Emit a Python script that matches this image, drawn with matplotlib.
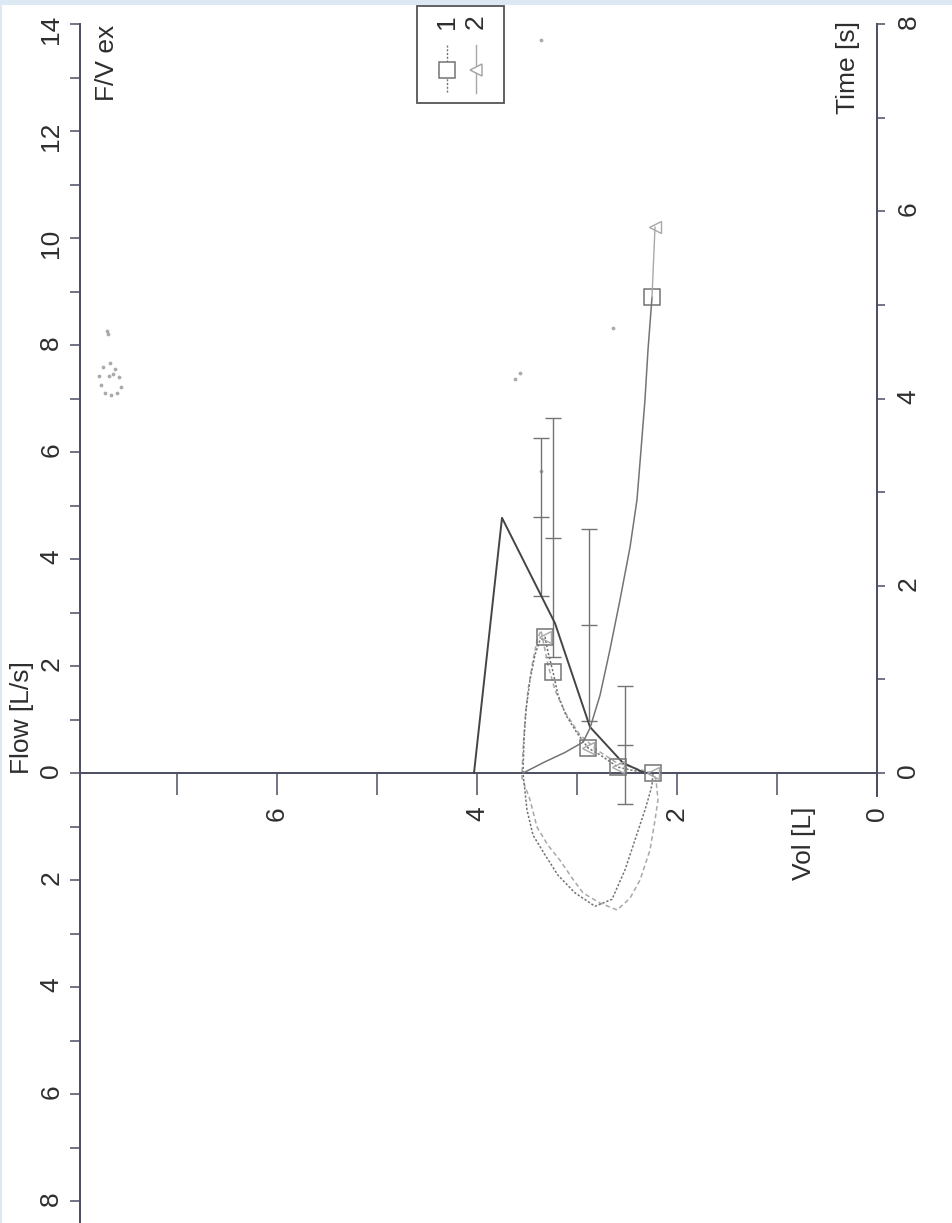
import matplotlib
matplotlib.use("Agg")
import matplotlib.pyplot as plt
from matplotlib.ticker import FixedLocator, FixedFormatter
from matplotlib.patches import Rectangle
from matplotlib.lines import Line2D

plt.rcParams['font.family'] = ['Liberation Sans', 'DejaVu Sans']

# ---------------- data ----------------
# predicted flow-volume line (vol [L], flow [L/s])
pred_vol = [4.03, 3.75, 3.22, 2.87, 2.54, 2.32]
pred_flow = [0.0, 4.77, 2.80, 0.86, 0.19, 0.0]

# predicted ranges (error bars)
eb_vol = [3.36, 3.24, 2.88, 2.52]
eb_center = [4.79, 4.40, 2.77, 0.53]
eb_half = [1.48, 2.23, 1.79, 1.10]

# series 1 flow-volume loop
s1_vol = [2.24, 2.42, 2.59, 2.77, 2.89, 3.00, 3.11, 3.19, 3.24, 3.29, 3.32,
          3.37, 3.42, 3.47, 3.51, 3.53, 3.54, 3.50, 3.44, 3.32, 3.19, 3.02,
          2.82, 2.65, 2.52, 2.42, 2.32, 2.27, 2.25, 2.24]
s1_flow = [0.0, 0.04, 0.11, 0.34, 0.47, 0.75, 1.08, 1.46, 1.89, 2.26, 2.54,
           2.49, 2.21, 1.74, 1.18, 0.62, 0.0, -0.69, -1.16, -1.53, -1.91, -2.24,
           -2.49, -2.36, -1.81, -1.25, -0.69, -0.37, -0.22, 0.0]

# series 2 flow-volume loop
s2_vol = [2.24, 2.42, 2.62, 2.80, 2.97, 3.12, 3.22, 3.29, 3.34, 3.36, 3.40,
          3.44, 3.49, 3.52, 3.54, 3.55, 3.55, 3.47, 3.40, 3.29, 3.17, 3.05,
          2.94, 2.77, 2.60, 2.47, 2.37, 2.27, 2.22, 2.19, 2.21, 2.24]
s2_flow = [0.0, 0.09, 0.21, 0.43, 0.71, 1.14, 1.55, 2.02, 2.48, 2.67, 2.48,
           2.11, 1.55, 0.99, 0.43, 0.0, -0.09, -0.50, -1.01, -1.35, -1.63, -1.96,
           -2.24, -2.43, -2.56, -2.34, -2.00, -1.44, -0.88, -0.50, -0.13, 0.0]

# markers on flow-volume curves
s1_mark_vol = [3.32, 3.24, 2.89, 2.59, 2.24]
s1_mark_flow = [2.54, 1.89, 0.47, 0.11, 0.0]
s2_mark_vol = [3.32, 2.89, 2.59, 2.24]
s2_mark_flow = [2.54, 0.47, 0.11, 0.0]

# volume-time curves (vol [L], time [s])
vt_vol = [3.54, 3.32, 3.12, 2.94, 2.87, 2.77, 2.67, 2.57, 2.47, 2.40,
          2.36, 2.32, 2.29, 2.25]
vt_time = [0.0, 0.12, 0.22, 0.33, 0.48, 0.83, 1.32, 1.85, 2.41, 2.92,
           3.45, 3.99, 4.52, 5.08]
vt2_vol = [2.25, 2.22]
vt2_time = [5.08, 5.83]
s1_end_vol, s1_end_time = [2.25], [5.08]
s2_end_vol, s2_end_time = [2.22], [5.83]

# faint scan specks seen on the sheet (vol, flow)
speck_vol = [7.67, 7.62, 7.58, 7.56, 7.60, 7.66, 7.72, 7.76, 7.78, 7.74,
             7.68, 7.64, 7.69, 7.70, 2.64, 3.57, 3.62, 3.36, 3.36]
speck_flow = [7.67, 7.55, 7.40, 7.22, 7.10, 7.06, 7.10, 7.25, 7.42, 7.58,
              7.42, 7.45, 8.20, 8.27, 8.32, 7.48, 7.36, 5.64, 13.7]

flow_ticks = [-8, -6, -4, -2, 0, 2, 4, 6, 8, 10, 12, 14]
flow_labels = ['8', '6', '4', '2', '0', '2', '4', '6', '8', '10', '12', '14']
vol_ticks = [0, 2, 4, 6]
vol_labels = ['0', '2', '4', '6']
time_ticks = [0, 2, 4, 6, 8]
time_labels = ['0', '2', '4', '6', '8']
legend_labels = ['1', '2']

# ---------------- figure ----------------
W, H = 953, 1223
fig = plt.figure(figsize=(W / 100, H / 100), dpi=100, facecolor='#dde8f5')


def fx(x):
    return x / W


def fy(y):
    return 1 - y / H


fig.patches.append(Rectangle((fx(2), 0), 1 - fx(2), fy(5), transform=fig.transFigure,
                             facecolor='white', edgecolor='none', zorder=-10))

AX = '#4a4e60'
TXT = '#2e2e2e'
MID = '#747474'
LIGHT = '#a8a8a8'
FS = 19
TR = 1.75  # flow units per second on the right axis

ax = fig.add_axes([fx(80), 0, fx(877) - fx(80), (H - 24) / H])
ax.set_facecolor('none')
ax.set_xlim(7.97, 0)
ax.set_ylim(-8.41, 14)
for s in ['top', 'right']:
    ax.spines[s].set_visible(False)
ax.spines['left'].set_color(AX)
ax.spines['left'].set_linewidth(1.4)
ax.spines['bottom'].set_position(('data', 0))
ax.spines['bottom'].set_color(AX)
ax.spines['bottom'].set_linewidth(1.4)

ax.yaxis.set_major_locator(FixedLocator(flow_ticks))
ax.yaxis.set_major_formatter(FixedFormatter(flow_labels))
ax.yaxis.set_minor_locator(FixedLocator([v + 1 for v in flow_ticks[:-1]]))
ax.tick_params(axis='y', which='both', direction='out', length=7, width=1.1,
               color=AX, pad=5, labelsize=FS, labelcolor=TXT, labelrotation=90)
ax.xaxis.set_major_locator(FixedLocator(vol_ticks))
ax.xaxis.set_major_formatter(FixedFormatter(vol_labels))
ax.xaxis.set_minor_locator(FixedLocator([1, 3, 5, 7]))
ax.tick_params(axis='x', which='both', direction='out', length=16, width=1.1,
               color=AX, pad=8, labelsize=FS, labelcolor=TXT, labelrotation=90)

# scan specks
ax.plot(speck_vol, speck_flow, ls='none', marker='o', ms=1.8, color='#8a8a8a',
        alpha=0.6, zorder=1)
# predicted line
ax.plot(pred_vol, pred_flow, color='#454545', lw=1.4, zorder=3)
# predicted ranges
ax.errorbar(eb_vol, eb_center, yerr=eb_half, fmt='_', color=MID, ecolor=MID,
            elinewidth=1.0, capsize=6, capthick=1.0, markersize=12, mew=1.0, zorder=2)
# loops
ax.plot(s2_vol, s2_flow, color=LIGHT, lw=1.1, ls=(0, (3, 2)), zorder=2)
ax.plot(s1_vol, s1_flow, color=MID, lw=1.1, ls=(0, (1.5, 1.2)), zorder=2)
ax.plot(s1_mark_vol, s1_mark_flow, ls='none', marker='s', ms=11, mfc='none',
        mec=MID, mew=1.1, zorder=4)
ax.plot(s2_mark_vol, s2_mark_flow, ls='none', marker='<', ms=9, mfc='none',
        mec=LIGHT, mew=1.0, zorder=4)

# time axis
ax2 = ax.twinx()
ax2.set_ylim(-8.41 / TR, 14 / TR)
ax2.set_xlim(7.97, 0)
for s in ['top', 'left', 'bottom']:
    ax2.spines[s].set_visible(False)
ax2.spines['right'].set_color(AX)
ax2.spines['right'].set_linewidth(1.4)
ax2.spines['right'].set_bounds(-0.25, 8)
ax2.yaxis.set_major_locator(FixedLocator(time_ticks))
ax2.yaxis.set_major_formatter(FixedFormatter(time_labels))
ax2.yaxis.set_minor_locator(FixedLocator([1, 3, 5, 7]))
ax2.tick_params(axis='y', which='both', direction='out', length=6, width=1.1,
                color=AX, pad=8, labelsize=FS, labelcolor=TXT, labelrotation=90)
ax2.plot(vt_vol, vt_time, color=MID, lw=1.1, zorder=3)
ax2.plot(vt2_vol, vt2_time, color=LIGHT, lw=1.0, zorder=3)
ax2.plot(s1_end_vol, s1_end_time, ls='none', marker='s', ms=11, mfc='none',
         mec=MID, mew=1.1)
ax2.plot(s2_end_vol, s2_end_time, ls='none', marker='<', ms=9, mfc='none',
         mec=LIGHT, mew=1.0)

# axis titles
fig.text(fx(107), fy(25), 'F/V ex', rotation=90, ha='center', va='top', fontsize=FS, color=TXT)
fig.text(fx(22), fy(718), 'Flow [L/s]', rotation=90, ha='center', va='center', fontsize=FS, color=TXT)
fig.text(fx(804), fy(843), 'Vol [L]', rotation=90, ha='center', va='center', fontsize=FS, color=TXT)
fig.text(fx(848), fy(68), 'Time [s]', rotation=90, ha='center', va='center', fontsize=FS, color=TXT)

# legend (drawn rotated like the chart)
fig.patches.append(Rectangle((fx(417), fy(103)), fx(504) - fx(417), fy(6) - fy(103),
                             transform=fig.transFigure, facecolor='white',
                             edgecolor='#555555', lw=1.3))
for i, (lab, col, mk) in enumerate(zip(legend_labels, [MID, LIGHT], ['s', '<'])):
    xc = 447 + 29 * i
    fig.text(fx(xc), fy(22), lab, rotation=90, ha='center', va='center', fontsize=FS, color=TXT)
    fig.lines.append(Line2D([fx(xc), fx(xc)], [fy(45), fy(93)], transform=fig.transFigure,
                            color=col, lw=1.0, ls=(0, (1.5, 1.2)) if i == 0 else '-'))
    fig.lines.append(Line2D([fx(xc)], [fy(70)], transform=fig.transFigure, ls='none',
                            marker=mk, ms=11 if i == 0 else 9, mfc='white', mec=col, mew=1.1))

fig.savefig('out.png', dpi=100, facecolor=fig.get_facecolor())
